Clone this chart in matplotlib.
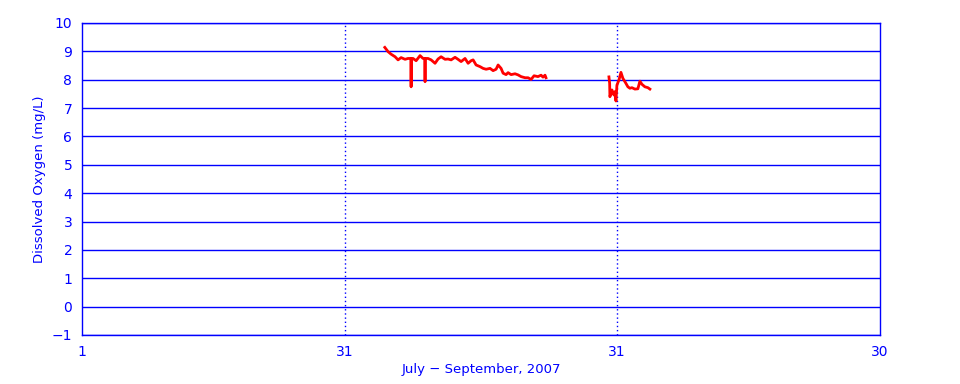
import numpy as np
from matplotlib import pyplot as plt

# days counted from July 1 (0) to Sept 30 (91)
days1 = [34.53, 34.9, 35.25, 35.7, 36.04, 36.39, 36.84, 37.18, 37.5, 37.53, 37.56,
         37.75, 38.1, 38.55, 38.89, 39.09, 39.12, 39.15, 39.46, 39.81, 40.26, 40.6,
         40.95, 41.4, 41.74, 42.09, 42.54, 42.88, 43.23, 43.68, 44.03, 44.37, 44.6,
         44.94, 45.4, 45.74, 46.08, 46.53, 46.88, 47.22, 47.45, 47.79, 48.02, 48.36,
         48.59, 48.93, 49.38, 49.73, 50.07, 50.53, 50.87, 51.21, 51.55, 52.0, 52.35,
         52.57, 52.8, 52.91]
do1 = [9.14, 8.99, 8.9, 8.81, 8.7, 8.78, 8.72, 8.75, 8.75, 7.75, 8.75,
       8.75, 8.67, 8.85, 8.75, 8.75, 7.93, 8.75, 8.75, 8.7, 8.58, 8.73,
       8.81, 8.72, 8.73, 8.7, 8.79, 8.72, 8.64, 8.75, 8.58, 8.67, 8.7,
       8.52, 8.46, 8.4, 8.37, 8.4, 8.32, 8.37, 8.52, 8.4, 8.23, 8.18,
       8.25, 8.18, 8.21, 8.17, 8.11, 8.07, 8.07, 8.01, 8.14, 8.11, 8.16,
       8.09, 8.16, 8.07]

days2 = [60.09, 60.17, 60.2, 60.43, 60.66, 60.77, 60.89, 61.0, 61.23, 61.46, 61.68,
         62.03, 62.25, 62.48, 62.71, 63.05, 63.39, 63.62, 63.85, 64.19, 64.53, 64.76]
do2 = [8.1, 7.87, 7.4, 7.64, 7.46, 7.58, 7.25, 7.81, 7.99, 8.26, 8.05,
       7.87, 7.75, 7.7, 7.72, 7.67, 7.68, 7.95, 7.84, 7.75, 7.72, 7.67]

tick_pos = [0, 30, 61, 91]
tick_lab = ['1', '31', '31', '30']

blue = '#0000ff'
fig = plt.figure(figsize=(9.6, 3.84), dpi=100)
ax = fig.add_axes([82 / 960, 49 / 384, 798 / 960, 312 / 384])

for y in range(-1, 11):
    ax.axhline(y, color=blue, lw=1.0, zorder=1)
for x in tick_pos[1:3]:
    ax.axvline(x, color=blue, lw=1, ls=(0, (1, 2)), zorder=1)

ax.plot(days1, do1, color='#ff0000', lw=2.0, zorder=3)
ax.plot(days2, do2, color='#ff0000', lw=2.0, zorder=3)

ax.set_xlim(0, 91)
ax.set_ylim(-1, 10)
ax.set_xticks(tick_pos)
ax.set_xticklabels(tick_lab)
ax.set_yticks(range(-1, 11))
ax.set_yticklabels(['\u22121'] + [str(v) for v in range(0, 11)])
ax.tick_params(length=0, colors=blue, labelsize=10, pad=7)
for s in ax.spines.values():
    s.set_color(blue)
    s.set_linewidth(1.0)

ax.set_ylabel('Dissolved Oxygen (mg/L)', color=blue, fontsize=9.5, labelpad=4)
ax.set_xlabel('July \u2212 September, 2007', color=blue, fontsize=9.5, labelpad=3)

plt.savefig('out.png', dpi=100)
